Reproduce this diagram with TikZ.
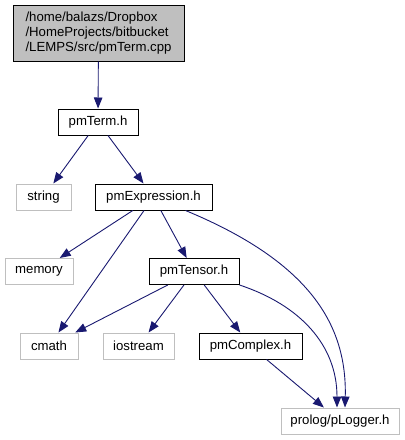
\documentclass[tikz,border=0pt]{standalone}
\usepackage{fontspec}
\setmainfont{Liberation Sans}
\usetikzlibrary{arrows.meta}
\definecolor{edgeblue}{HTML}{191970}
\definecolor{lightgraybd}{HTML}{BFBFBF}
\tikzset{
  every node/.style={font=\fontsize{13.2}{15}\selectfont, inner sep=0pt, anchor=center},
  blk/.style={draw=black, line width=1pt, fill=white, minimum height=26pt},
  gry/.style={draw=lightgraybd, line width=1pt, fill=white, minimum height=26pt},
  src/.style={draw=black, line width=1pt, fill=lightgraybd, align=left},
  dep/.style={draw=edgeblue, line width=0.9pt, -{Triangle[length=11pt,width=8.5pt]}, fill=none},
}
\begin{document}
\begin{tikzpicture}[x=1pt,y=-1pt]
\useasboundingbox (0,0) rectangle (405,440);
\node[src, minimum width=171pt, minimum height=56pt] (top) at (98.5,33) {/home/balazs/Dropbox\\/HomeProjects/bitbucket\\/LEMPS/src/pmTerm.cpp};
\node[blk, minimum width=80pt] (pmTerm) at (98,122) {pmTerm.h};
\node[gry, minimum width=55pt] (string) at (43.5,197) {string};
\node[blk, minimum width=117pt] (pmExpr) at (153.5,197) {pmExpression.h};
\node[gry, minimum width=68pt] (memory) at (39,271.5) {memory};
\node[blk, minimum width=90pt] (pmTensor) at (194,271.5) {pmTensor.h};
\node[gry, minimum width=58pt] (cmath) at (49,346) {cmath};
\node[gry, minimum width=71pt] (iostream) at (138.5,346) {iostream};
\node[blk, minimum width=103pt] (pmComplex) at (250.5,346) {pmComplex.h};
\node[gry, minimum width=118pt] (pLogger) at (340,421) {prolog/pLogger.h};

\draw[dep] (top) -- (pmTerm);
\draw[dep] (pmTerm) -- (string);
\draw[dep] (pmTerm) -- (pmExpr);
\draw[dep] (pmExpr) -- (memory);
\draw[dep] (pmExpr) -- (cmath);
\draw[dep] (pmExpr) -- (pmTensor);
\draw[dep] ([xshift=-27pt]pmExpr.south east) .. controls (310,262) and (347,325) .. ([xshift=5pt]pLogger.north);
\draw[dep] (pmTensor) -- (cmath);
\draw[dep] (pmTensor) -- (iostream);
\draw[dep] (pmTensor) -- (pmComplex);
\draw[dep] (pmTensor.south east) .. controls (300,305) and (337,345) .. ([xshift=-3pt]pLogger.north);
\draw[dep] (pmComplex) -- (pLogger);
\end{tikzpicture}
\end{document}
